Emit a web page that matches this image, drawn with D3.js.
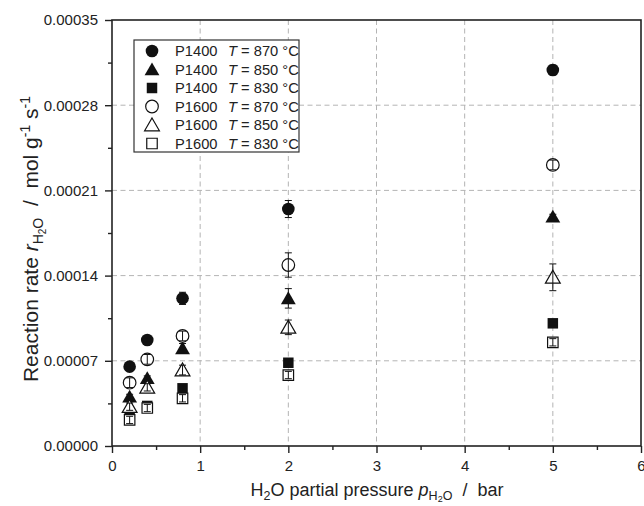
<!DOCTYPE html>
<html>
<head>
<meta charset="utf-8">
<script src="https://cdn.jsdelivr.net/npm/d3@7"></script>
<style>
  body { margin: 0; background: #fff; }
  svg text { font-family: Arial, "Liberation Sans", sans-serif; fill: #222; }
  .grid line { stroke: #b4b4b4; stroke-width: 1; stroke-dasharray: 5, 3.5; }
</style>
</head>
<body>
<div id="chart"></div>
<script>
// H2O partial pressure (bar)
const pressure = [0.2, 0.4, 0.8, 2, 5];

// reaction rates, mol g-1 s-1
const rateP1400_870 = [0.0000652, 0.0000871, 0.0001213, 0.0001947, 0.0003089];
const rateP1400_850 = [0.0000405, 0.0000556, 0.0000802, 0.0001213, 0.0001884];
const rateP1400_830 = [0.0000268, 0.0000329, 0.0000474, 0.0000684, 0.0001008];
const rateP1600_870 = [0.0000520, 0.0000712, 0.0000904, 0.0001487, 0.0002309];
const rateP1600_850 = [0.0000323, 0.0000482, 0.0000624, 0.0000975, 0.0001386];
const rateP1600_830 = [0.0000214, 0.0000312, 0.0000392, 0.0000583, 0.0000852];

// error bars (+/-)
const errP1400_870 = [0.000002, 0.000002, 0.000005, 0.000007, 0.000004];
const errP1400_850 = [0.000002, 0.000002, 0.000004, 0.000008, 0.000002];
const errP1400_830 = [0.000001, 0.000001, 0.000002, 0.000002, 0.000001];
const errP1600_870 = [0.000004, 0.000004, 0.000004, 0.000010, 0.000004];
const errP1600_850 = [0.000003, 0.000003, 0.000004, 0.000006, 0.000011];
const errP1600_830 = [0.000003, 0.000003, 0.000003, 0.000003, 0.000003];

const samples = ["P1400", "P1400", "P1400", "P1600", "P1600", "P1600"];
const temps = ["870", "850", "830", "870", "850", "830"];
const shapes = ["circle", "triangle", "square", "circle", "triangle", "square"];
const filled = [true, true, true, false, false, false];

const xTicks = [0, 1, 2, 3, 4, 5, 6];
const yTicks = [0, 0.00007, 0.00014, 0.00021, 0.00028, 0.00035];

const rates = [rateP1400_870, rateP1400_850, rateP1400_830, rateP1600_870, rateP1600_850, rateP1600_830];
const errs = [errP1400_870, errP1400_850, errP1400_830, errP1600_870, errP1600_850, errP1600_830];

const width = 644,
  height = 506;
const margin = { top: 20, right: 3, bottom: 60, left: 112 };
const innerW = width - margin.left - margin.right,
  innerH = height - margin.top - margin.bottom;
const nb = "\u00a0"; // keep the double spaces around the slash

const svg = d3
  .select("#chart")
  .append("svg")
  .attr("width", width)
  .attr("height", height);

const g = svg
  .append("g")
  .attr("transform", "translate(" + margin.left + "," + margin.top + ")");

const x = d3.scaleLinear().domain([0, 6]).range([0, innerW]);
const y = d3.scaleLinear().domain([0, 0.00035]).range([innerH, 0]);

// grid lines
g.append("g")
  .attr("class", "grid")
  .selectAll("line")
  .data(xTicks.slice(1, -1))
  .join("line")
  .attr("x1", function(d) { return x(d); })
  .attr("x2", function(d) { return x(d); })
  .attr("y1", 0)
  .attr("y2", innerH);

g.append("g")
  .attr("class", "grid")
  .selectAll("line")
  .data(yTicks.slice(1, -1))
  .join("line")
  .attr("y1", function(d) { return y(d); })
  .attr("y2", function(d) { return y(d); })
  .attr("x1", 0)
  .attr("x2", innerW);

// axes
const xAxis = d3.axisBottom(x).tickValues(xTicks).tickSize(7).tickPadding(7).tickFormat(d3.format("d"));
const yAxis = d3.axisLeft(y).tickValues(yTicks).tickSize(7).tickPadding(7).tickFormat(d3.format(".5f"));
const xMinor = d3.axisBottom(x).tickValues(d3.range(0.5, 6, 1)).tickSize(4).tickFormat("");
const yMinor = d3.axisLeft(y).tickValues(d3.range(0.000035, 0.00035, 0.00007)).tickSize(4).tickFormat("");

function styleAxis(sel) {
  sel.selectAll(".domain").remove();
  sel.selectAll("line").attr("stroke", "#222").attr("stroke-width", 1.4);
  sel.selectAll("text").style("font-size", "15px").attr("fill", "#222");
}

g.append("g").attr("transform", "translate(0," + innerH + ")").call(xAxis).call(styleAxis);
g.append("g").attr("transform", "translate(0," + innerH + ")").call(xMinor).call(styleAxis);
g.append("g").call(yAxis).call(styleAxis);
g.append("g").call(yMinor).call(styleAxis);

// frame
g.append("rect")
  .attr("width", innerW)
  .attr("height", innerH)
  .attr("fill", "none")
  .attr("stroke", "#222")
  .attr("stroke-width", 1.6);

const symbolType = {
  circle: d3.symbolCircle,
  triangle: d3.symbolTriangle,
  square: d3.symbolSquare
};
const symbolSize = { circle: 125, triangle: 95, square: 110 };

function symbolPath(shape) {
  return d3.symbol().type(symbolType[shape]).size(symbolSize[shape])();
}

// points + error bars
rates.forEach(function(series, s) {
  const pts = pressure.map(function(p, i) {
    return { p: p, v: series[i], e: errs[s][i] };
  });
  const layer = g.append("g");

  layer
    .selectAll("path")
    .data(pts)
    .join("path")
    .attr("d", symbolPath(shapes[s]))
    .attr("transform", function(d) {
      // d3 triangle sits on its centroid, nudge it down a little
      const dy = shapes[s] === "triangle" ? 1.5 : 0;
      return "translate(" + x(d.p) + "," + (y(d.v) + dy) + ")";
    })
    .attr("fill", filled[s] ? "#111" : "#fff")
    .attr("stroke", "#111")
    .attr("stroke-width", filled[s] ? 0 : 1.2);

  const bars = layer
    .selectAll(".err")
    .data(pts)
    .join("g")
    .attr("class", "err")
    .attr("stroke", "#111")
    .attr("stroke-width", 1);

  bars.append("line")
    .attr("x1", function(d) { return x(d.p); })
    .attr("x2", function(d) { return x(d.p); })
    .attr("y1", function(d) { return y(d.v - d.e); })
    .attr("y2", function(d) { return y(d.v + d.e); });
  bars.append("line")
    .attr("x1", function(d) { return x(d.p) - 3.5; })
    .attr("x2", function(d) { return x(d.p) + 3.5; })
    .attr("y1", function(d) { return y(d.v - d.e); })
    .attr("y2", function(d) { return y(d.v - d.e); });
  bars.append("line")
    .attr("x1", function(d) { return x(d.p) - 3.5; })
    .attr("x2", function(d) { return x(d.p) + 3.5; })
    .attr("y1", function(d) { return y(d.v + d.e); })
    .attr("y2", function(d) { return y(d.v + d.e); });
});

// legend
const legend = svg.append("g").attr("transform", "translate(134,40)");

legend
  .append("rect")
  .attr("width", 165)
  .attr("height", 112)
  .attr("fill", "#fff")
  .attr("stroke", "#333")
  .attr("stroke-width", 1.2);

const rows = legend
  .selectAll(".row")
  .data(samples)
  .join("g")
  .attr("class", "row")
  .attr("transform", function(d, i) {
    return "translate(0," + (11 + i * 18.5) + ")";
  });

rows
  .append("path")
  .attr("d", function(d, i) { return symbolPath(shapes[i]); })
  .attr("transform", function(d, i) {
    return "translate(18," + (shapes[i] === "triangle" ? 1.5 : 0) + ")";
  })
  .attr("fill", function(d, i) { return filled[i] ? "#111" : "#fff"; })
  .attr("stroke", "#111")
  .attr("stroke-width", function(d, i) { return filled[i] ? 0 : 1.2; });

const rowText = rows
  .append("text")
  .attr("x", 41)
  .attr("y", 5)
  .style("font-size", "14.7px");
rowText.append("tspan").text(function(d) { return d; });
rowText.append("tspan").attr("x", 94).style("font-style", "italic").text("T");
rowText.append("tspan").text(function(d, i) { return " = " + temps[i] + " \u00b0C"; });

// x axis title
const xTitle = svg
  .append("text")
  .attr("x", 377)
  .attr("y", 496)
  .attr("text-anchor", "middle")
  .style("font-size", "18px");
xTitle.append("tspan").text("H");
xTitle.append("tspan").attr("dy", 4).style("font-size", "12.5px").text("2");
xTitle.append("tspan").attr("dy", -4).text("O partial pressure ");
xTitle.append("tspan").style("font-style", "italic").text("p");
xTitle.append("tspan").attr("dy", 4).style("font-size", "12.5px").text("H");
xTitle.append("tspan").attr("dy", 1.5).style("font-size", "9px").text("2");
xTitle.append("tspan").attr("dy", -1.5).style("font-size", "12.5px").text("O");
xTitle.append("tspan").attr("dy", -4).text(nb + nb + "/" + nb + nb + "bar");

// y axis title
const yTitle = svg
  .append("text")
  .attr("transform", "translate(38,239) rotate(-90)")
  .attr("text-anchor", "middle")
  .style("font-size", "21px");
yTitle.append("tspan").text("Reaction rate ");
yTitle.append("tspan").style("font-style", "italic").text("r");
yTitle.append("tspan").attr("dy", 5).style("font-size", "14px").text("H");
yTitle.append("tspan").attr("dy", 2.5).style("font-size", "10px").text("2");
yTitle.append("tspan").attr("dy", -2.5).style("font-size", "14px").text("O");
yTitle.append("tspan").attr("dy", -5).text(nb + nb + "/" + nb + nb + "mol g");
yTitle.append("tspan").attr("dy", -8).style("font-size", "14px").text("-1");
yTitle.append("tspan").attr("dy", 8).text(" s");
yTitle.append("tspan").attr("dy", -8).style("font-size", "14px").text("-1");
</script>
</body>
</html>
